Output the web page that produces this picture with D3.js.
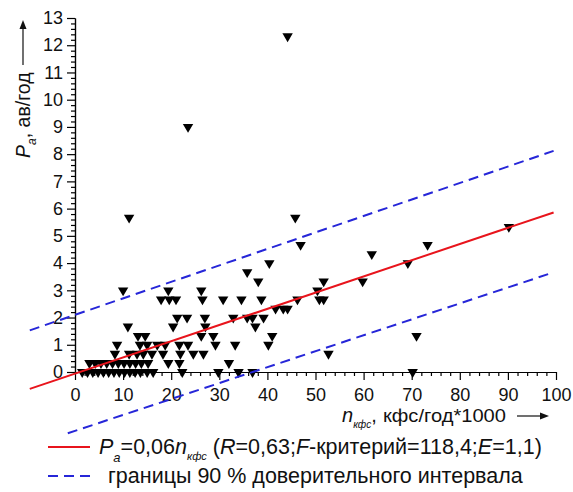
<!DOCTYPE html>
<html>
<head>
<meta charset="utf-8">
<script src="https://cdn.jsdelivr.net/npm/d3@7"></script>
<style>
  body { margin: 0; background: #fff; }
  svg { font-family: "Liberation Sans", Arial, sans-serif; }
  .axis text { font-size: 18px; fill: #111; }
  .axis path, .axis line { stroke: #000; stroke-width: 1.2; }
</style>
</head>
<body>
<svg class="chart"></svg>
<script>
// scatter: n кфс (thousands per year) vs P a (accidents per year)
var nKfs = [
  44.2, 23.5, 11.25, 45.8, 46.9, 73.3, 90.2, 69.2, 61.7, 40.4, 35.8, 38.1, 51.7, 59.8, 71, 70.2,
  10, 19.4, 26.25, 50.4,
  17.9, 19.6, 21.0, 26.5, 30.8, 34.6, 38.75, 46.25, 50.8, 51.7,
  41.7, 43.3, 44.2,
  21.25, 23.3, 27, 32.9, 35.8, 36.9, 39.2,
  11, 20.4, 27.1, 37.5,
  13.1, 14.6, 26.25, 28.75, 41,
  8.75, 13.5, 15, 17.1, 18.75, 21.7, 23.5, 29.2, 33.3, 40.2,
  8.3, 11.25, 12.9, 14.2, 16, 18.3, 21.9, 24.6, 26.7, 52.7,
  3, 4.2, 5.4, 6.6, 7.8, 9, 10.2, 11.4, 12.6, 13.8, 15.2, 19.4, 21.7, 32,
  1.5, 2.6, 3.7, 4.8, 5.9, 7, 8.1, 9.2, 10.3, 11.4, 12.5, 13.6, 15, 16.25, 22.3, 29.8, 34, 36.9
];
var pAcc = [
  12.33, 9, 5.67, 5.67, 4.67, 4.67, 5.33, 4, 4.33, 4, 3.67, 3.33, 3.33, 3.33, 1.33, 0,
  3, 3, 3, 3,
  2.67, 2.67, 2.67, 2.67, 2.67, 2.67, 2.67, 2.67, 2.67, 2.67,
  2.33, 2.33, 2.33,
  2, 2, 2, 2, 2, 2, 2,
  1.67, 1.67, 1.67, 1.67,
  1.33, 1.33, 1.33, 1.33, 1.33,
  1, 1, 1, 1, 1, 1, 1, 1, 1, 1,
  0.67, 0.67, 0.67, 0.67, 0.67, 0.67, 0.67, 0.67, 0.67, 0.67,
  0.33, 0.33, 0.33, 0.33, 0.33, 0.33, 0.33, 0.33, 0.33, 0.33, 0.33, 0.33, 0.33, 0.33,
  0, 0, 0, 0, 0, 0, 0, 0, 0, 0, 0, 0, 0, 0, 0, 0, 0, 0
];

// regression line and 90 % band, end points
var fitN = [-9.4, 99.5],   fitP = [-0.62, 5.86];
var upperN = [-9.4, 99.5], upperP = [1.53, 8.12];
var lowerN = [-1.5, 99.5], lowerP = [-2.25, 3.66];

var xTicks = [0, 10, 20, 30, 40, 50, 60, 70, 80, 90, 100];
var yTicks = [0, 1, 2, 3, 4, 5, 6, 7, 8, 9, 10, 11, 12, 13];

var margin = {top: 18, right: 17, bottom: 120, left: 75},
    width = 573 - margin.left - margin.right,
    height = 492 - margin.top - margin.bottom;

var red = "#e8141c", blue = "#2626d8";

var x = d3.scaleLinear().domain([0, 100]).range([0, width]);
var y = d3.scaleLinear().domain([0, 13]).range([height, 0]);

var svg = d3.select('.chart')
    .attr('width', 573)
    .attr('height', 492);

var chart = svg.append("g")
    .attr("transform", "translate(" + margin.left + "," + margin.top + ")");

var xMinor = d3.range(0, 101, 2).filter(function(v) { return v % 10 !== 0; });
var yMinor = d3.range(0, 65).map(function(i) { return i / 5; }).filter(function(v, i) { return i % 5 !== 0; });

// minor ticks first
chart.append("g")
    .attr("class", "x axis")
    .attr("transform", "translate(0," + height + ")")
    .call(d3.axisBottom(x).tickValues(xMinor).tickSize(4).tickSizeOuter(0).tickFormat(""));
chart.append("g")
    .attr("class", "y axis")
    .call(d3.axisLeft(y).tickValues(yMinor).tickSize(4).tickSizeOuter(0).tickFormat(""));

chart.append("g")
    .attr("class", "x axis")
    .attr("transform", "translate(0," + height + ")")
    .call(d3.axisBottom(x).tickValues(xTicks).tickSize(8).tickSizeOuter(0).tickPadding(8));

chart.append("g")
    .attr("class", "y axis")
    .call(d3.axisLeft(y).tickValues(yTicks).tickSize(8).tickSizeOuter(0).tickPadding(4));

// markers
var tri = "M-5.2,-2.9L5.2,-2.9L0,5.9Z";
chart.append("g").selectAll("path")
    .data(nKfs)
    .enter()
    .append("path")
    .attr("d", tri)
    .attr("fill", "#000")
    .attr("transform", function(d, i) { return "translate(" + x(d) + "," + y(pAcc[i]) + ")"; });

var line = d3.line()
    .x(function(d) { return x(d[0]); })
    .y(function(d) { return y(d[1]); });

function pair(a, b) { return a.map(function(v, i) { return [v, b[i]]; }); }

chart.append("path")
    .attr("d", line(pair(upperN, upperP)))
    .attr("fill", "none").attr("stroke", blue).attr("stroke-width", 2)
    .attr("stroke-dasharray", "10,6");
chart.append("path")
    .attr("d", line(pair(lowerN, lowerP)))
    .attr("fill", "none").attr("stroke", blue).attr("stroke-width", 2)
    .attr("stroke-dasharray", "10,6");
chart.append("path")
    .attr("d", line(pair(fitN, fitP)))
    .attr("fill", "none").attr("stroke", red).attr("stroke-width", 2);

// y axis title (rotated)
var yt = svg.append("text")
    .attr("transform", "translate(30,158) rotate(-90)")
    .style("font-size", "19.5px")
    .style("fill", "#111");
yt.append("tspan").style("font-style", "italic").text("P");
yt.append("tspan").attr("dy", 6).style("font-size", "12px").style("font-style", "italic").text("a");
yt.append("tspan").attr("dy", -6).text(",  ав/год");
svg.append("line").attr("x1", 23).attr("x2", 23).attr("y1", 65).attr("y2", 26)
    .attr("stroke", "#111").attr("stroke-width", 1.2);
svg.append("path").attr("d", "M23,20L19.5,29L26.5,29Z").attr("fill", "#111");

// x axis title
var xt = svg.append("text")
    .attr("x", 342).attr("y", 422)
    .style("font-size", "20px")
    .style("fill", "#111");
xt.append("tspan").style("font-style", "italic").text("n");
xt.append("tspan").attr("dy", 6).style("font-size", "10px").style("font-style", "italic").text("кфс");
xt.append("tspan").attr("dy", -6).text(",");
svg.append("text")
    .attr("x", 383).attr("y", 422)
    .attr("textLength", 123).attr("lengthAdjust", "spacingAndGlyphs")
    .style("font-size", "19px")
    .style("fill", "#111")
    .text("кфс/год*1000");
svg.append("line").attr("x1", 517).attr("x2", 542).attr("y1", 416).attr("y2", 416)
    .attr("stroke", "#111").attr("stroke-width", 1.2);
svg.append("path").attr("d", "M549,416L540,412.5L540,419.5Z").attr("fill", "#111");

// legend
svg.append("line").attr("x1", 48).attr("x2", 90).attr("y1", 447).attr("y2", 447)
    .attr("stroke", red).attr("stroke-width", 2);
var l1 = svg.append("text").attr("x", 99).attr("y", 454)
    .style("font-size", "21.5px").style("fill", "#111");
l1.append("tspan").style("font-style", "italic").text("P");
l1.append("tspan").attr("dy", 8).style("font-size", "13px").style("font-style", "italic").text("a");
l1.append("tspan").attr("dy", -8).text("=0,06");
l1.append("tspan").style("font-style", "italic").text("n");
l1.append("tspan").attr("dy", 6).style("font-size", "11px").style("font-style", "italic").text("кфс");
l1.append("tspan").attr("dy", -6).text(" (");
l1.append("tspan").style("font-style", "italic").text("R");
l1.append("tspan").text("=0,63;");
l1.append("tspan").style("font-style", "italic").text("F");
l1.append("tspan").text("-критерий=118,4;");
l1.append("tspan").style("font-style", "italic").text("E");
l1.append("tspan").text("=1,1)");

svg.append("line").attr("x1", 48).attr("x2", 92).attr("y1", 476).attr("y2", 476)
    .attr("stroke", blue).attr("stroke-width", 2).attr("stroke-dasharray", "10,6");
svg.append("text").attr("x", 108).attr("y", 483)
    .style("font-size", "21.5px").style("fill", "#111")
    .text("границы 90 % доверительного интервала");
</script>
</body>
</html>
